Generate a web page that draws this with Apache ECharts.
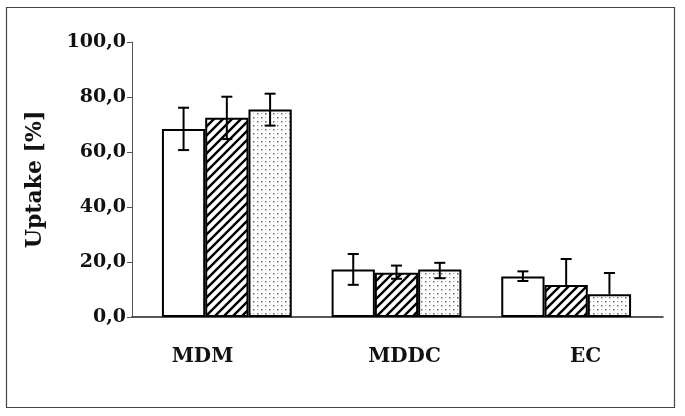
<!DOCTYPE html>
<html>
<head>
<meta charset="utf-8">
<script src="https://cdn.jsdelivr.net/npm/echarts@6/dist/echarts.min.js"></script>
<style>
  html, body { margin: 0; padding: 0; background: #fff; }
  #chart { width: 685px; height: 416px; }
</style>
</head>
<body>
<div id="chart"></div>
<script>
// data
const categories = ['MDM', 'MDDC', 'EC']
const seriesNames = ['A', 'B', 'C']
const valuesA = [68.4, 17.3, 14.7]
const valuesB = [72.5, 16.1, 11.6]
const valuesC = [75.5, 17.3, 8.3]
const errPlusA = [7.7, 5.6, 1.9]
const errPlusB = [7.6, 2.6, 9.5]
const errPlusC = [5.7, 2.4, 7.7]
const errMinusA = [7.7, 5.6, 1.6]
const errMinusB = [7.8, 2.2, null]
const errMinusC = [5.9, 3.2, null]
const yTicks = [0, 20, 40, 60, 80, 100]

const values = [valuesA, valuesB, valuesC]
const errPlus = [errPlusA, errPlusB, errPlusC]
const errMinus = [errMinusA, errMinusB, errMinusC]

// fill patterns
function hatchPattern () {
  const c = document.createElement('canvas')
  c.width = 9; c.height = 9
  const g = c.getContext('2d')
  g.fillStyle = '#fff'
  g.fillRect(0, 0, 9, 9)
  g.strokeStyle = '#000'
  g.lineWidth = 2.4
  g.beginPath()
  g.moveTo(-2, 11); g.lineTo(11, -2)
  g.moveTo(-7, 7); g.lineTo(7, -7)
  g.moveTo(2, 16); g.lineTo(16, 2)
  g.stroke()
  return c
}
function dotPattern () {
  const c = document.createElement('canvas')
  c.width = 8; c.height = 8
  const g = c.getContext('2d')
  g.fillStyle = '#fff'
  g.fillRect(0, 0, 8, 8)
  g.fillStyle = '#666'
  g.fillRect(1, 1, 1.5, 1.5)
  g.fillRect(5, 5, 1.5, 1.5)
  g.fillStyle = '#aaa'
  g.fillRect(5, 1, 1, 1)
  g.fillRect(1, 5, 1, 1)
  return c
}

const fills = ['#fff', { image: hatchPattern(), repeat: 'repeat' }, { image: dotPattern(), repeat: 'repeat' }]
const gapRatio = 0.235
const font = 'DejaVu Serif'

// bars live on grid 1 (a bit narrower than the drawn axes, like the original)
const barSeries = values.map((vals, i) => ({
  name: seriesNames[i],
  type: 'bar',
  xAxisIndex: 1,
  yAxisIndex: 1,
  data: vals,
  barGap: '0%',
  barCategoryGap: (gapRatio * 100) + '%',
  itemStyle: { color: fills[i], borderColor: '#000', borderWidth: 2 },
  z: 2
}))

const errData = []
values.forEach((vals, i) => {
  vals.forEach((v, j) => {
    errData.push([j, v, errPlus[i][j], errMinus[i][j], i])
  })
})

const errSeries = {
  type: 'custom',
  xAxisIndex: 1,
  yAxisIndex: 1,
  z: 5,
  data: errData,
  renderItem: (params, api) => {
    const j = api.value(0)
    const v = api.value(1)
    const plus = api.value(2)
    const minus = api.value(3)
    const i = api.value(4)
    const band = api.size([1, 0])[0]
    const bw = band * (1 - gapRatio) / 3
    const base = api.coord([j, v])
    const x = base[0] + (i - 1) * bw
    const top = api.coord([j, v + plus])[1]
    const hasMinus = !isNaN(minus) && minus !== null
    const bot = hasMinus ? api.coord([j, v - minus])[1] : base[1]
    const cap = 5.5
    const style = { stroke: '#000', lineWidth: 2 }
    const children = [
      { type: 'line', shape: { x1: x, y1: top, x2: x, y2: bot }, style },
      { type: 'line', shape: { x1: x - cap, y1: top, x2: x + cap, y2: top }, style }
    ]
    if (hasMinus) {
      children.push({ type: 'line', shape: { x1: x - cap, y1: bot, x2: x + cap, y2: bot }, style })
    }
    return { type: 'group', children }
  }
}

const labelStyle = { color: '#111', fontFamily: font, fontWeight: 'bold', fontSize: 20 }

const chart = echarts.init(document.getElementById('chart'))
chart.setOption({
  backgroundColor: '#fff',
  animation: false,
  grid: [
    { left: 132, right: 22, top: 42, bottom: 99 },
    { left: 142, right: 34, top: 42, bottom: 99 }
  ],
  xAxis: [{
    type: 'category',
    gridIndex: 0,
    data: categories,
    axisLine: { lineStyle: { color: '#222', width: 1.5 } },
    axisTick: { show: false },
    axisLabel: {
      margin: 30,
      formatter: (v, idx) => '{c' + idx + '|' + v + '}',
      rich: {
        c0: { ...labelStyle, padding: [0, 36, 0, 0] },
        c1: { ...labelStyle, padding: [0, 0, 0, 14] },
        c2: { ...labelStyle, padding: [0, 0, 0, 22] }
      }
    }
  }, {
    type: 'category',
    gridIndex: 1,
    data: categories,
    show: false
  }],
  yAxis: [{
    type: 'value',
    gridIndex: 0,
    min: yTicks[0],
    max: yTicks[yTicks.length - 1],
    interval: yTicks[1] - yTicks[0],
    name: 'Uptake [%]',
    nameLocation: 'middle',
    nameGap: 86,
    nameTextStyle: { color: '#111', fontFamily: font, fontWeight: 'bold', fontSize: 22 },
    axisLine: { show: true, lineStyle: { color: '#555', width: 1 } },
    axisTick: { show: true, inside: false, length: 5, lineStyle: { color: '#555' } },
    splitLine: { show: false },
    axisLabel: {
      color: '#111', fontFamily: font, fontWeight: 'bold', fontSize: 19, margin: 6,
      formatter: (v) => v.toFixed(1).replace('.', ',')
    }
  }, {
    type: 'value',
    gridIndex: 1,
    min: yTicks[0],
    max: yTicks[yTicks.length - 1],
    show: false,
    splitLine: { show: false }
  }],
  graphic: [{
    type: 'rect',
    shape: { x: 6.5, y: 7.5, width: 668, height: 400 },
    style: { fill: 'none', stroke: '#444', lineWidth: 1.2 },
    z: 0
  }],
  series: [...barSeries, errSeries]
})
</script>
</body>
</html>
